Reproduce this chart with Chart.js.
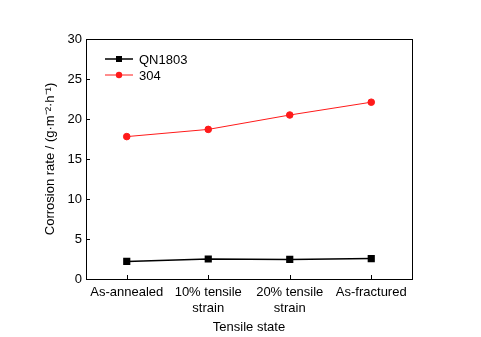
<!DOCTYPE html>
<html>
<head>
<meta charset="utf-8">
<script src="https://cdn.jsdelivr.net/npm/chart.js@4"></script>
<style>
  html, body { margin: 0; padding: 0; background: #fff; }
  #wrap { width: 481px; height: 337px; }
</style>
</head>
<body>
<div id="wrap"><canvas id="myChart" width="481" height="337"></canvas></div>
<script>
let states = [["As-annealed"], ["10% tensile", "strain"], ["20% tensile", "strain"], ["As-fractured"]];
let qnValues = [2.2, 2.5, 2.45, 2.55];
let ssValues = [17.8, 18.7, 20.5, 22.1];
let yTicks = [0, 5, 10, 15, 20, 25, 30];

let font = "'Liberation Sans', Arial, sans-serif";
Chart.defaults.font.family = font;
Chart.defaults.font.size = 13;
Chart.defaults.color = "#000";

// box around plot, inward ticks, legend with line + marker
let framePlugin = {
    id: "frame",
    afterDraw(chart) {
        let ctx = chart.ctx;
        let a = chart.chartArea;
        ctx.save();
        ctx.strokeStyle = "#000";
        ctx.lineWidth = 1;
        ctx.strokeRect(a.left + 0.5, a.top + 0.5, a.right - a.left, a.bottom - a.top);
        let x = chart.scales.x, y = chart.scales.y;
        ctx.beginPath();
        yTicks.forEach(v => {
            let py = Math.round(y.getPixelForValue(v)) + 0.5;
            ctx.moveTo(a.left, py);
            ctx.lineTo(a.left + 4, py);
        });
        states.forEach((s, i) => {
            let px = Math.round(x.getPixelForValue(i)) + 0.5;
            ctx.moveTo(px, a.bottom);
            ctx.lineTo(px, a.bottom - 4);
        });
        ctx.stroke();

        // legend
        let ly = [59, 75];
        chart.data.datasets.forEach((ds, i) => {
            ctx.strokeStyle = ds.borderColor;
            ctx.lineWidth = ds.borderWidth;
            ctx.beginPath();
            ctx.moveTo(105, ly[i]);
            ctx.lineTo(133, ly[i]);
            ctx.stroke();
            ctx.fillStyle = ds.pointBackgroundColor;
            if (ds.pointStyle == "rect") {
                ctx.fillRect(116, ly[i] - 3, 6, 6);
            } else {
                ctx.beginPath();
                ctx.arc(119, ly[i], 3.2, 0, Math.PI * 2);
                ctx.fill();
            }
            ctx.fillStyle = "#000";
            ctx.font = "13px " + font;
            ctx.textBaseline = "middle";
            ctx.fillText(ds.label, 139, ly[i] + 1);
        });
        ctx.restore();
    }
};

new Chart("myChart", {
    type: "line",
    data: {
        labels: states,
        datasets: [{
            label: "QN1803",
            data: qnValues,
            borderColor: "#000",
            backgroundColor: "#000",
            pointBackgroundColor: "#000",
            pointBorderColor: "#000",
            borderWidth: 1.5,
            pointStyle: "rect",
            pointRadius: 4,
            tension: 0
        }, {
            label: "304",
            data: ssValues,
            borderColor: "#ff1a1a",
            backgroundColor: "#ff1a1a",
            pointBackgroundColor: "#ff1a1a",
            pointBorderColor: "#ff1a1a",
            borderWidth: 1,
            pointStyle: "circle",
            pointRadius: 3.3,
            tension: 0
        }]
    },
    options: {
        responsive: false,
        animation: false,
        layout: { padding: { left: 0, top: 39, right: 69, bottom: 0 } },
        plugins: {
            legend: { display: false },
            tooltip: { enabled: false }
        },
        scales: {
            x: {
                offset: true,
                grid: { display: false, drawTicks: false },
                border: { display: false },
                ticks: { padding: 6, maxRotation: 0, autoSkip: false },
                title: { display: true, text: "Tensile state", padding: { top: 0, bottom: 2 } },
                afterFit(scale) { scale.height = 58; }
            },
            y: {
                min: 0,
                max: 30,
                grid: { display: false, drawTicks: false },
                border: { display: false },
                ticks: { stepSize: 5, padding: 4 },
                title: { display: true, text: "Corrosion rate / (g\u00b7m\u207b\u00b2\u00b7h\u207b\u00b9)", padding: { top: 43, bottom: 0 } },
                afterFit(scale) { scale.width = 86; }
            }
        }
    },
    plugins: [framePlugin]
});
</script>
</body>
</html>
